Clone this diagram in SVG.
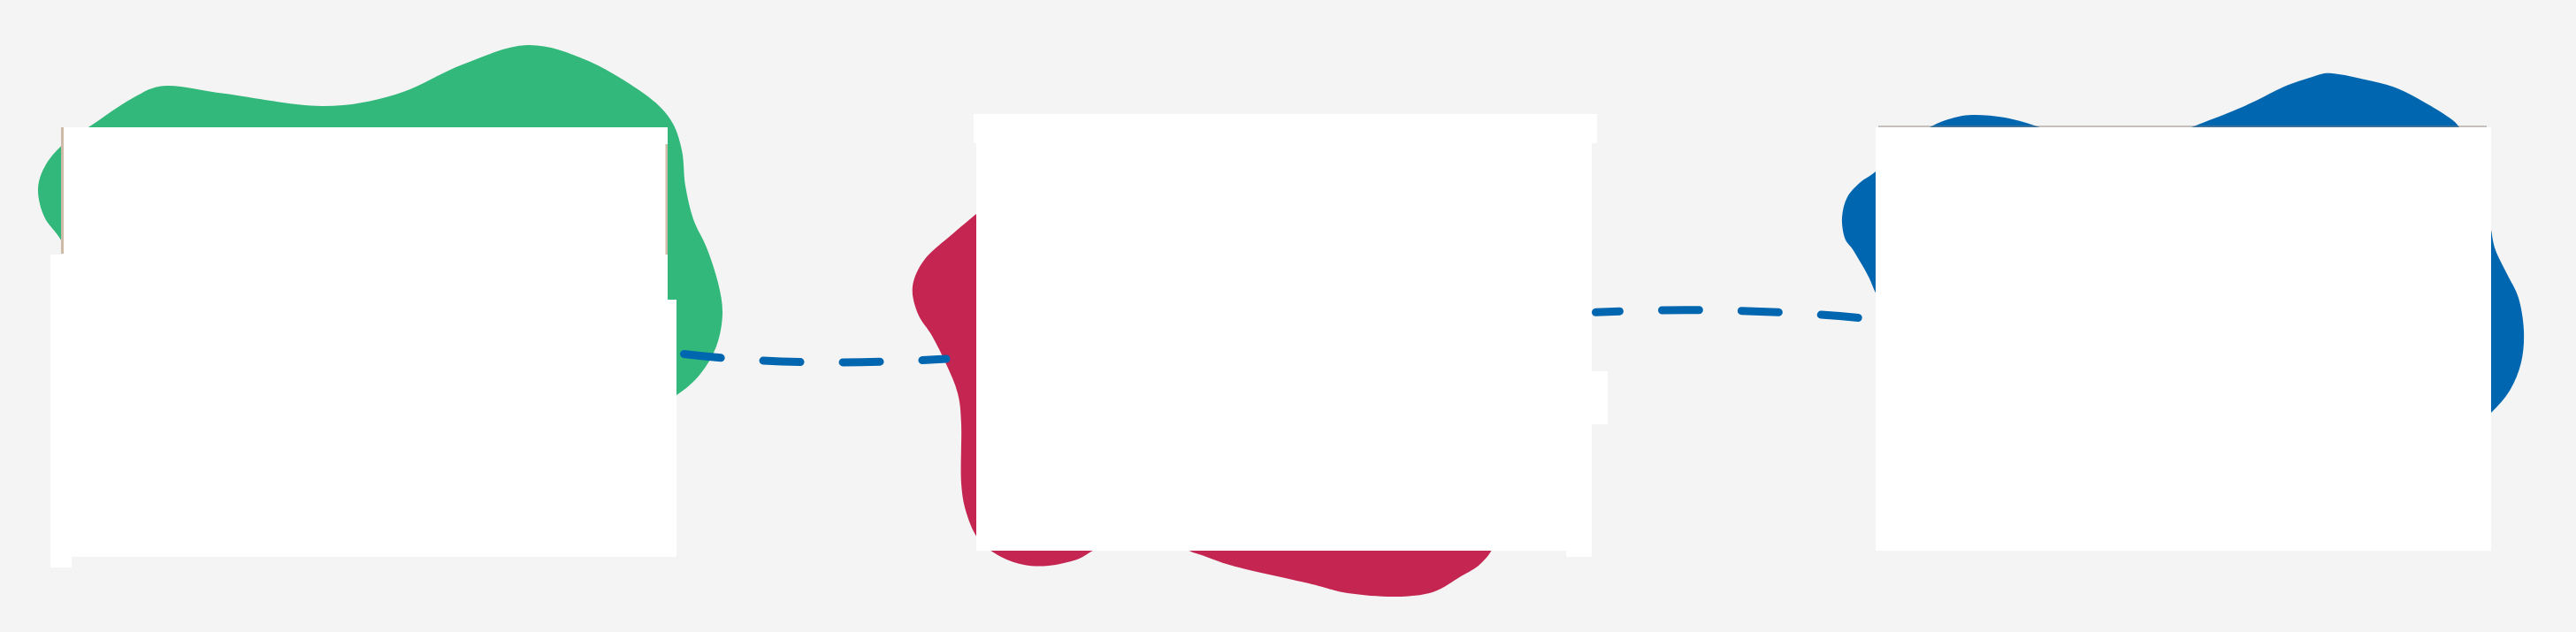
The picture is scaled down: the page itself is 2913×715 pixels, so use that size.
<svg xmlns="http://www.w3.org/2000/svg" width="2913" height="715" viewBox="0 0 2913 715">
<style>
.card{fill:#ffffff}
.edge{fill:#cdbba8}
.conn{fill:none;stroke:#0066b0;stroke-width:9;stroke-linecap:round;stroke-dasharray:42 48}
</style>
<rect x="0" y="0" width="2913" height="715" fill="#f4f4f4"/>
<g id="node-green">
<path fill="#31b87a" d="M 43 214 C 43.3 204.2 46.7 195 52 186 C 57.3 177 66 167.7 75 160 C 84 152.3 93.5 148.2 106 140 C 118.5 131.8 136.3 118.2 150 111 C 163.7 103.8 170.5 97.8 188 97 C 205.5 96.2 225.7 102.2 255 106 C 284.3 109.8 332 119.8 364 120 C 396 120.2 420.5 114.8 447 107 C 473.5 99.2 498.2 82.3 523 73 C 547.8 63.7 572.7 51.8 596 51 C 619.3 50.2 641.2 59 663 68 C 684.8 77 711.2 93.8 727 105 C 742.8 116.2 750.7 124.2 758 135 C 765.3 145.8 768.2 157.5 771 170 C 773.8 182.5 772.8 197 775 210 C 777.2 223 780 236.3 784 248 C 788 259.7 794.3 268 799 280 C 803.7 292 809 307.5 812 320 C 815 332.5 817.3 343 817 355 C 816.7 367 814.2 380.7 810 392 C 805.8 403.3 799.5 413.8 792 423 C 784.5 432.2 776 440 765 447 L 600 560 L 300 560 L 100 330 C 88 305 76 285 68 270 C 59.7 257.5 54.2 254.3 50 245 C 45.8 235.7 42.7 223.8 43 214 Z"/>
<rect class="card" x="72" y="144" width="683" height="195"/>
<rect class="edge" x="69" y="144" width="3" height="143"/>
<rect class="edge" x="752.5" y="163" width="2.5" height="176"/>
<polygon class="card" points="57,288 755,288 755,339 765,339 765,630 81,630 81,642 57,642"/>
</g>
<g id="node-red">
<path fill="#c42651" d="M 1130 220 L 1104 242 C 1095.3 249.3 1087.7 255.5 1078 264 C 1068.3 272.5 1053.7 283 1046 293 C 1038.3 303 1033.3 313.7 1032 324 C 1030.7 334.3 1034.3 345.7 1038 355 C 1041.7 364.3 1048.7 370.5 1054 380 C 1059.3 389.5 1065.2 401.2 1070 412 C 1074.8 422.8 1080.2 433.7 1083 445 C 1085.8 456.3 1086.3 463 1087 480 C 1087.7 497 1085.8 529.7 1087 547 C 1088.2 564.3 1090.5 573.2 1094 584 C 1097.5 594.8 1101.7 604.3 1108 612 C 1114.3 619.7 1123.7 625.5 1132 630 C 1140.3 634.5 1149 637.3 1158 639 C 1167 640.7 1176 641 1186 640 C 1196 639 1208.2 636.3 1218 633 C 1227.8 629.7 1231.3 623 1245 620 L 1300 615 C 1320 615 1335 618 1349 625 C 1365.2 629.3 1375.2 635.2 1397 641 C 1418.8 646.8 1458.8 655 1480 660 C 1501.2 665 1507.7 668.5 1524 671 C 1540.3 673.5 1562 675.2 1578 675 C 1594 674.8 1607.7 673.8 1620 670 C 1632.3 666.2 1643 657.3 1652 652 C 1661 646.7 1667.7 644.2 1674 638 C 1680.3 631.8 1687 625 1690 615 L 1700 450 L 1500 250 L 1200 190 Z"/>
<rect class="card" x="1101" y="129" width="705" height="33"/>
<polygon class="card" points="1104,161 1800,161 1800,420 1818,420 1818,480 1800,480 1800,630 1771,630 1771,623 1104,623"/>
</g>
<g id="node-blue">
<path fill="#0066b0" d="M 2125 340 C 2120 330 2117 322 2114 315 C 2110.5 307.8 2107.2 302.5 2104 297 C 2100.8 291.5 2098 286.7 2095 282 C 2092 277.3 2088 275 2086 269 C 2084 263 2082.5 253.7 2083 246 C 2083.5 238.3 2085.5 229.7 2089 223 C 2092.5 216.3 2098.7 210.8 2104 206 C 2109.3 201.2 2113.3 200.8 2121 194 L 2150 165 L 2170 152 C 2175 149 2178 146 2182 144 C 2187.5 141.2 2195 137.3 2203 135 C 2211 132.7 2219.3 130.3 2230 130 C 2240.7 129.7 2254.2 130.7 2267 133 C 2279.8 135.3 2294.8 139.8 2307 144 L 2340 158 L 2450 156 C 2462 152 2470 148 2478 144 C 2489.5 139.3 2506.8 133 2519 128 C 2531.2 123 2540.3 119 2551 114 C 2561.7 109 2572.3 102.5 2583 98 C 2593.7 93.5 2606 89.5 2615 87 C 2624 84.5 2626.3 82.3 2637 83 C 2647.7 83.7 2666.7 88.2 2679 91 C 2691.3 93.8 2700.5 95.8 2711 100 C 2721.5 104.2 2732.5 110.7 2742 116 C 2751.5 121.3 2761.5 127.3 2768 132 C 2774.5 136.7 2775.7 136.8 2781 144 L 2800 175 L 2812 230 C 2815 245 2816 252 2817 260 C 2818.7 268.8 2819 274.7 2822 283 C 2825 291.3 2830.7 301 2835 310 C 2839.3 319 2844.8 326.3 2848 337 C 2851.2 347.7 2853.5 361.8 2854 374 C 2854.5 386.2 2853.7 398.7 2851 410 C 2848.3 421.3 2843.7 432.5 2838 442 C 2832.3 451.5 2825 459 2817 467 L 2790 490 L 2600 600 L 2200 600 Z"/>
<rect class="card" x="2121" y="144" width="696" height="479"/>
<line x1="2124" y1="143" x2="2812" y2="143" stroke="#8a7f78" stroke-width="1.5" stroke-opacity="0.6"/>
</g>
<g id="connectors">
<path class="conn" d="M 773.5 400.5 Q 900 416 1070 406"/>
<path class="conn" stroke-dashoffset="15" d="M 1804.5 353.3 Q 1950 346 2102 359.5"/>
</g>
</svg>
